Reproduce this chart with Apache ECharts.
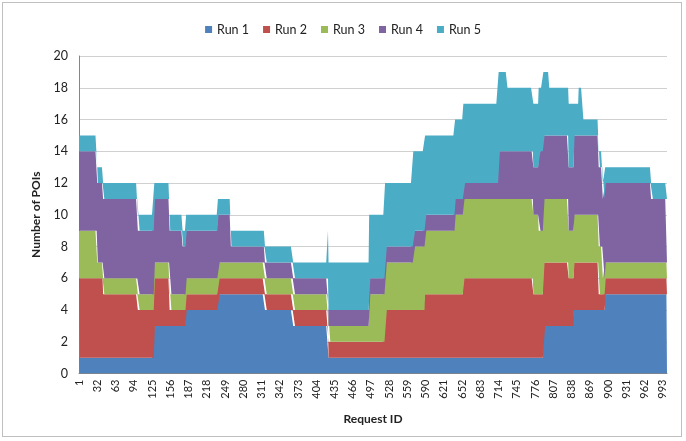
<!DOCTYPE html>
<html><head><meta charset="utf-8">
<script src="https://cdn.jsdelivr.net/npm/echarts@6/dist/echarts.min.js"></script>
<style>
html,body{margin:0;padding:0;background:#fff;}
#frame{position:absolute;left:2px;top:2px;width:680px;height:435px;border:1px solid #bfbfbf;box-sizing:border-box;}
#chart{position:absolute;left:0;top:0;width:686px;height:441px;}
</style></head>
<body>
<div id="frame"></div>
<div id="chart"></div>
<script>
// Request ID where each constant stretch begins (run-length steps)
const segStart = [1, 32, 42, 101, 129, 155, 177, 183, 237, 259, 317, 365, 424, 425, 494, 521, 569, 589, 640, 654, 714, 729, 773, 782, 790, 800, 833, 842, 850, 858, 884, 891, 895, 973];
const run1 = [1, 1, 1, 1, 3, 3, 3, 4, 5, 5, 4, 3, 3, 1, 1, 1, 1, 1, 1, 1, 1, 1, 1, 1, 3, 3, 3, 4, 4, 4, 4, 4, 5, 5];
const run2 = [5, 5, 4, 3, 3, 1, 1, 1, 1, 1, 1, 1, 1, 1, 1, 3, 3, 4, 4, 5, 5, 5, 4, 4, 4, 4, 3, 3, 3, 3, 1, 1, 1, 1];
const run3 = [3, 1, 1, 1, 1, 1, 1, 1, 1, 1, 1, 1, 1, 1, 3, 3, 4, 4, 5, 5, 5, 5, 5, 4, 4, 4, 3, 3, 3, 3, 3, 1, 1, 1];
const run4 = [5, 5, 5, 4, 4, 4, 3, 3, 3, 1, 1, 1, 1, 1, 1, 1, 1, 1, 1, 1, 3, 3, 3, 5, 4, 4, 4, 5, 5, 5, 5, 5, 5, 4];
const run5 = [1, 1, 1, 1, 1, 1, 1, 1, 1, 1, 1, 1, 3, 3, 4, 4, 5, 5, 5, 5, 5, 4, 4, 4, 4, 3, 4, 2, 3, 1, 1, 1, 1, 1];
const seriesNames = ['Run 1', 'Run 2', 'Run 3', 'Run 4', 'Run 5'];
const lastId = 1000;
const tickLabels = ['1','32','63','94','125','156','187','218','249','280','311','342','373','404','435','466','497','528','559','590','621','652','683','714','745','776','807','838','869','900','931','962','993'];

const colors = ['#4F81BD', '#C0504D', '#9BBB59', '#8064A2', '#4BACC6'];
const categories = [];
for (let id = 1; id <= lastId; id++) categories.push(String(id));
function expand(steps) {
  const out = [];
  let s = 0;
  for (let id = 1; id <= lastId; id++) {
    while (s + 1 < segStart.length && segStart[s + 1] <= id) s++;
    out.push(steps[s]);
  }
  return out;
}
const runs = [run1, run2, run3, run4, run5];
const tickSet = new Set(tickLabels);
const FONT = 'Lato, "Open Sans", sans-serif';

const chart = echarts.init(document.getElementById('chart'), null, {renderer: 'canvas'});
chart.setOption({
  animation: false,
  color: colors,
  legend: {
    top: 18, left: 'center',
    icon: 'rect', itemWidth: 7, itemHeight: 7, itemGap: 14,
    textStyle: {fontFamily: FONT, fontSize: 12.5, color: '#222'},
    data: seriesNames
  },
  grid: {left: 79, right: 19, top: 56, bottom: 67.5, containLabel: false},
  xAxis: {
    type: 'category', data: categories, boundaryGap: false,
    name: 'Request ID', nameLocation: 'middle', nameGap: 40,
    nameTextStyle: {fontFamily: FONT, fontSize: 12, fontWeight: 'bold', color: '#222'},
    axisLine: {lineStyle: {color: '#868686'}},
    axisTick: {show: false},
    axisLabel: {
      rotate: 90, fontFamily: FONT, fontSize: 11, color: '#222', margin: 6,
      interval: (idx, val) => tickSet.has(val)
    },
    splitLine: {show: false}
  },
  yAxis: {
    type: 'value', min: 0, max: 20, interval: 2,
    name: 'Number of POIs', nameLocation: 'middle', nameGap: 37,
    nameTextStyle: {fontFamily: FONT, fontSize: 12, fontWeight: 'bold', color: '#222'},
    axisLine: {show: true, lineStyle: {color: '#868686'}},
    axisTick: {show: false},
    axisLabel: {fontFamily: FONT, fontSize: 12.5, color: '#222', margin: 11},
    splitLine: {lineStyle: {color: '#d0d0d0'}}
  },
  series: runs.map((r, i) => ({
    name: seriesNames[i], type: 'line', stack: 'all',
    data: expand(r), symbol: 'none', showSymbol: false,
    lineStyle: {width: 0}, areaStyle: {color: colors[i], opacity: 1},
    itemStyle: {color: colors[i]}
  }))
});
</script>
</body></html>
